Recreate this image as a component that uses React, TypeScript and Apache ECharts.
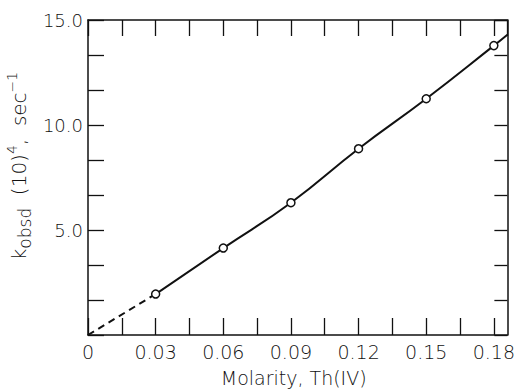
import React, { useEffect, useRef } from "react";
import * as echarts from "echarts";

// Measured points: molarity of Th(IV) vs k_obsd (10)^4, sec^-1
const molarity = [0.03, 0.06, 0.09, 0.12, 0.15, 0.18];
const kObsd = [1.95, 4.14, 6.3, 8.87, 11.25, 13.78];
// Curve continues past the last point to the frame edge
const curveEndX = [0.186];
const curveEndY = [14.3];
// Dashed extrapolation to the origin
const originX = [0];
const originY = [0];

const xTickStep = 0.015;
const yTickStep = 5 / 3;
const xMax = 0.186;
const yMax = 15;

const FONT = "'DejaVu Sans', 'Liberation Sans', sans-serif";
const INK = "#111";

export default function App() {
  const ref = useRef<HTMLDivElement>(null);

  useEffect(() => {
    document.body.style.margin = "0";
    if (!ref.current) return;
    const chart = echarts.init(ref.current, undefined, { renderer: "svg" });

    const points = molarity.map((m, i) => [m, kObsd[i]]);
    const curve = [...points, [curveEndX[0], curveEndY[0]]];
    const dashed = [[originX[0], originY[0]], points[0]];

    const isMult = (v: number, step: number) =>
      Math.abs(v / step - Math.round(v / step)) < 1e-6;

    const axisLine = { show: true, onZero: false, lineStyle: { color: INK, width: 1.5 } };
    const tickStyle = { color: INK, width: 1.3 };

    chart.setOption({
      animation: false,
      backgroundColor: "#fff",
      grid: { left: 88, right: 1, top: 20, bottom: 52, containLabel: false },
      xAxis: [
        {
          type: "value",
          position: "bottom",
          min: 0,
          max: xMax,
          interval: xTickStep,
          axisLine,
          axisTick: { show: true, inside: true, length: 17, lineStyle: tickStyle },
          splitLine: { show: false },
          axisLabel: {
            show: true,
            margin: 7,
            color: INK,
            fontFamily: FONT,
            fontSize: 19,
            fontWeight: 200,
            showMaxLabel: false,
            formatter: (v: number) => {
              if (Math.abs(v) < 1e-9) return "0";
              if (isMult(v, 0.03)) return v.toFixed(2);
              return "";
            },
          },
          name: "Molarity, Th(IV)",
          nameLocation: "middle",
          nameGap: 33,
          nameTextStyle: {
            color: INK,
            fontFamily: FONT,
            fontSize: 19,
            fontWeight: 200,
            padding: [0, 8, 0, 0],
          },
        },
        {
          type: "value",
          position: "top",
          min: 0,
          max: xMax,
          interval: xTickStep,
          axisLine,
          axisTick: { show: true, inside: true, length: 16, lineStyle: tickStyle },
          axisLabel: { show: false },
          splitLine: { show: false },
        },
      ],
      yAxis: [
        {
          type: "value",
          position: "left",
          min: 0,
          max: yMax,
          interval: yTickStep,
          axisLine,
          axisTick: { show: true, inside: true, length: 16, lineStyle: tickStyle },
          splitLine: { show: false },
          axisLabel: {
            show: true,
            margin: 5,
            color: INK,
            fontFamily: FONT,
            fontSize: 18,
            fontWeight: 200,
            formatter: (v: number) => {
              if (v < 1e-6) return "";
              if (isMult(v, 5)) return (Math.round(v / 5) * 5).toFixed(1);
              return "";
            },
          },
        },
        {
          type: "value",
          position: "right",
          min: 0,
          max: yMax,
          interval: yTickStep,
          axisLine,
          axisTick: { show: true, inside: true, length: 13, lineStyle: tickStyle },
          axisLabel: { show: false },
          splitLine: { show: false },
        },
      ],
      graphic: [
        {
          type: "text",
          x: 19,
          y: 166,
          rotation: Math.PI / 2,
          style: {
            text: "{m|k}{sub|obsd}{m|  (10)}{sup|4}{m|,  sec}{sup|−1}",
            align: "center",
            verticalAlign: "middle",
            textAlign: "center",
            textVerticalAlign: "middle",
            fill: INK,
            rich: {
              m: {
                fontFamily: FONT,
                fontSize: 20,
                fontWeight: 200,
                color: INK,
                lineHeight: 28,
                verticalAlign: "middle",
              },
              sub: {
                fontFamily: FONT,
                fontSize: 17,
                fontWeight: 200,
                color: INK,
                lineHeight: 17,
                verticalAlign: "bottom",
              },
              sup: {
                fontFamily: FONT,
                fontSize: 14,
                fontWeight: 200,
                color: INK,
                lineHeight: 14,
                verticalAlign: "top",
              },
            },
          },
        },
      ],
      series: [
        {
          type: "line",
          data: dashed,
          showSymbol: false,
          lineStyle: { color: INK, width: 2, type: [7, 5] },
          z: 2,
        },
        {
          type: "line",
          data: curve,
          smooth: 0.5,
          showSymbol: false,
          lineStyle: { color: INK, width: 2 },
          z: 2,
        },
        {
          type: "scatter",
          data: points,
          symbol: "circle",
          symbolSize: 8,
          itemStyle: { color: "#fff", borderColor: INK, borderWidth: 1.5, opacity: 1 },
          z: 3,
        },
      ],
    });

    return () => chart.dispose();
  }, []);

  return (
    <div
      ref={ref}
      style={{ width: 518, height: 392, position: "absolute", left: 0, top: 0 }}
    />
  );
}
